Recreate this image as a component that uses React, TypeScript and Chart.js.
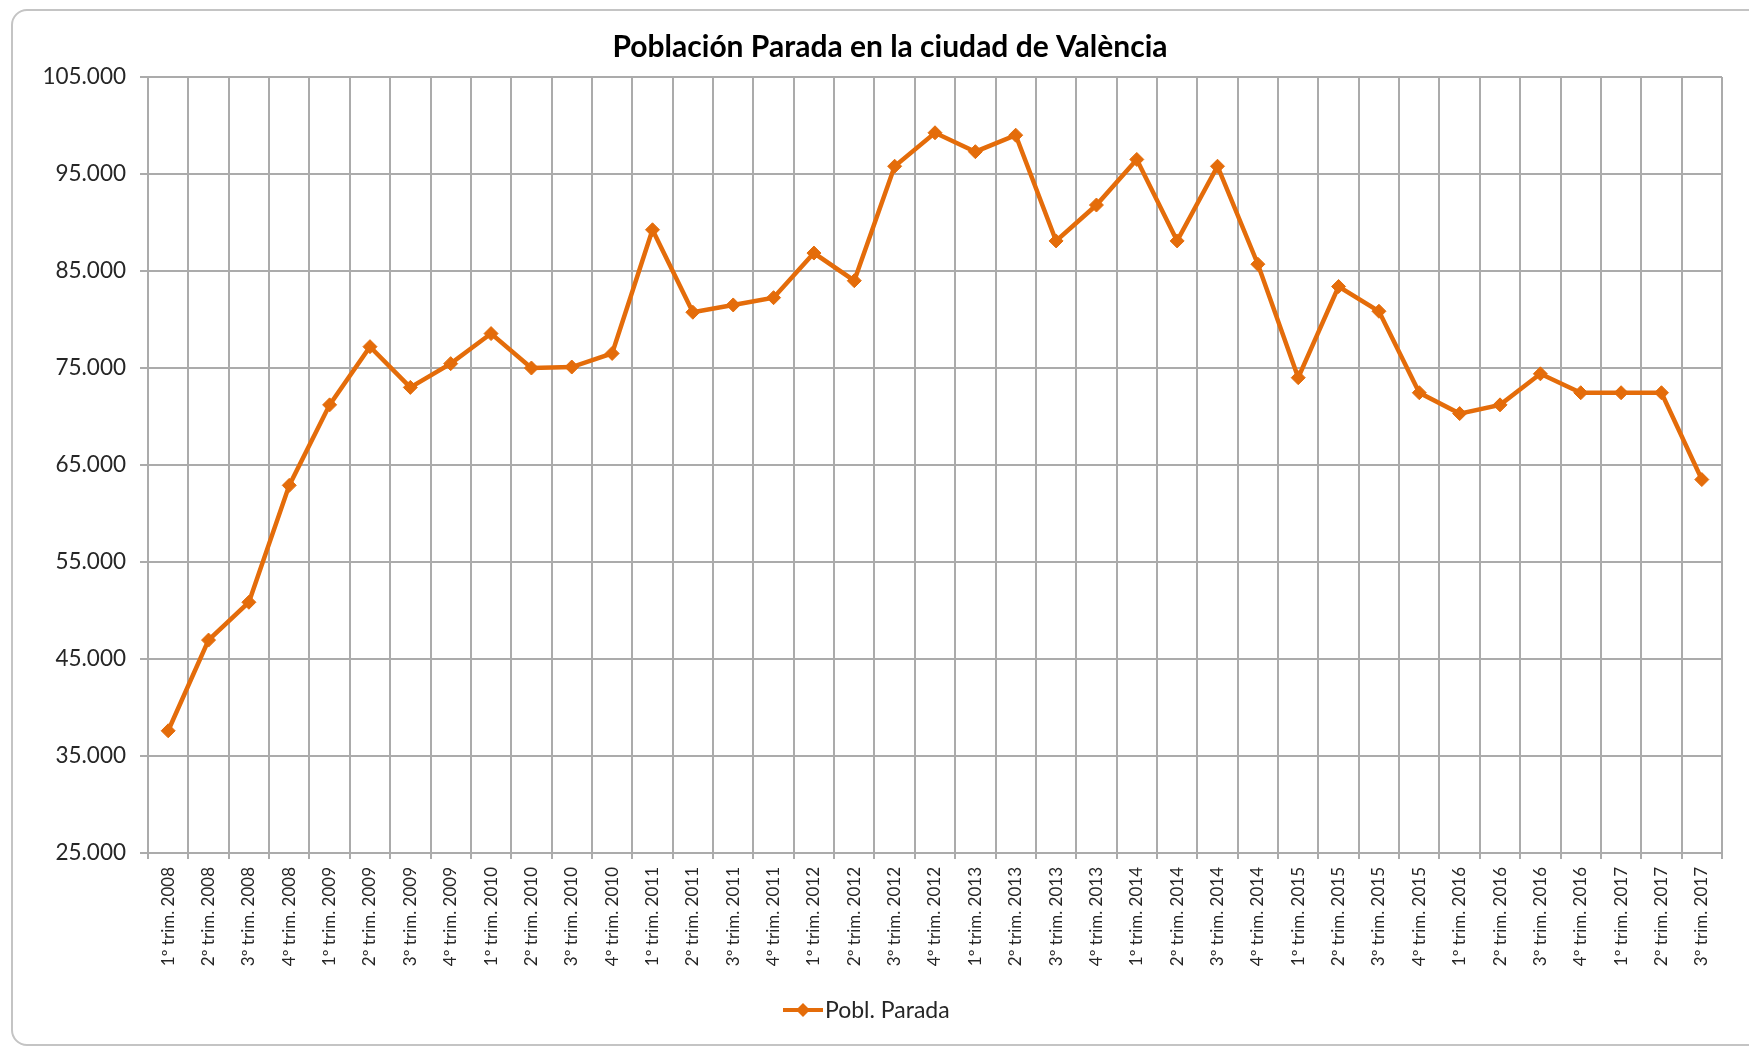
import React, { useEffect, useRef } from "react";
import { Chart, registerables } from "chart.js";

Chart.register(...registerables);

const chartTitle = "Población Parada en la ciudad de València";
const seriesLabel = "Pobl. Parada";

const categories = [
  "1º trim. 2008", "2º trim. 2008", "3º trim. 2008", "4º trim. 2008",
  "1º trim. 2009", "2º trim. 2009", "3º trim. 2009", "4º trim. 2009",
  "1º trim. 2010", "2º trim. 2010", "3º trim. 2010", "4º trim. 2010",
  "1º trim. 2011", "2º trim. 2011", "3º trim. 2011", "4º trim. 2011",
  "1º trim. 2012", "2º trim. 2012", "3º trim. 2012", "4º trim. 2012",
  "1º trim. 2013", "2º trim. 2013", "3º trim. 2013", "4º trim. 2013",
  "1º trim. 2014", "2º trim. 2014", "3º trim. 2014", "4º trim. 2014",
  "1º trim. 2015", "2º trim. 2015", "3º trim. 2015", "4º trim. 2015",
  "1º trim. 2016", "2º trim. 2016", "3º trim. 2016", "4º trim. 2016",
  "1º trim. 2017", "2º trim. 2017", "3º trim. 2017",
];

const poblParada = [
  37600, 46950, 50850, 62900,
  71200, 77200, 73000, 75450,
  78550, 75000, 75100, 76500,
  89250, 80750, 81500, 82250,
  86850, 84000, 95800, 99250,
  97300, 99000, 88100, 91800,
  96500, 88100, 95800, 85700,
  74000, 83400, 80850, 72450,
  70300, 71200, 74400, 72450,
  72450, 72450, 63500,
];

const yMin = 25000;
const yMax = 105000;
const yStep = 10000;

const ORANGE = "#E46C0A";
const GRID = "#ababab";
const TEXT = "#262626";
const FONT = "Lato";

function formatThousands(v: number): string {
  return String(Math.round(v)).replace(/\B(?=(\d{3})+(?!\d))/g, ".");
}

const overlayPlugin = {
  id: "overlayTitleLegend",
  afterDraw(chart: any) {
    const ctx = chart.ctx as CanvasRenderingContext2D;
    ctx.save();
    // Title
    ctx.font = `bold 30px ${FONT}`;
    ctx.fillStyle = "#000000";
    ctx.textAlign = "center";
    ctx.textBaseline = "middle";
    ctx.fillText(chartTitle, 890, 47);

    // Legend: line + diamond marker + text
    const ly = 1010;
    const lx0 = 783;
    const lx1 = 823;
    ctx.strokeStyle = ORANGE;
    ctx.lineWidth = 4;
    ctx.beginPath();
    ctx.moveTo(lx0, ly);
    ctx.lineTo(lx1, ly);
    ctx.stroke();
    const mx = (lx0 + lx1) / 2;
    ctx.fillStyle = ORANGE;
    ctx.beginPath();
    ctx.moveTo(mx, ly - 7);
    ctx.lineTo(mx + 7, ly);
    ctx.lineTo(mx, ly + 7);
    ctx.lineTo(mx - 7, ly);
    ctx.closePath();
    ctx.fill();
    ctx.font = `23px ${FONT}`;
    ctx.fillStyle = TEXT;
    ctx.textAlign = "left";
    ctx.fillText(seriesLabel, lx1 + 2, ly + 1);
    ctx.restore();
  },
};

export default function App() {
  const canvasRef = useRef<HTMLCanvasElement | null>(null);

  useEffect(() => {
    if (!canvasRef.current) return;
    const chart = new Chart(canvasRef.current, {
      type: "line",
      data: {
        labels: categories,
        datasets: [
          {
            label: seriesLabel,
            data: poblParada,
            borderColor: ORANGE,
            backgroundColor: ORANGE,
            borderWidth: 4.5,
            pointStyle: "rectRot",
            pointRadius: 7,
            pointBorderWidth: 1,
            pointBackgroundColor: ORANGE,
            pointBorderColor: ORANGE,
            tension: 0,
            fill: false,
          },
        ],
      },
      options: {
        responsive: false,
        animation: false,
        devicePixelRatio: 1,
        layout: { padding: { left: 0, right: 27, top: 77, bottom: 0 } },
        plugins: {
          legend: { display: false },
          title: { display: false },
          tooltip: { enabled: false },
        },
        scales: {
          x: {
            type: "category",
            offset: true,
            grid: {
              offset: true,
              color: GRID,
              lineWidth: 2,
              tickLength: 6,
              drawTicks: true,
            },
            border: { color: GRID, width: 2 },
            ticks: {
              autoSkip: false,
              maxRotation: 90,
              minRotation: 90,
              padding: 8,
              color: TEXT,
              font: { family: FONT, size: 17 },
            },
            afterFit(scale: any) {
              scale.height = 1048 - 853;
            },
          },
          y: {
            min: yMin,
            max: yMax,
            grid: {
              color: GRID,
              lineWidth: 2,
              tickLength: 8,
              drawTicks: true,
            },
            border: { color: GRID, width: 2 },
            ticks: {
              stepSize: yStep,
              padding: 14,
              color: TEXT,
              font: { family: FONT, size: 22.5 },
              callback: (v: any) => formatThousands(Number(v)),
            },
            afterFit(scale: any) {
              scale.width = 148;
            },
          },
        },
      },
      plugins: [overlayPlugin],
    });
    return () => chart.destroy();
  }, []);

  return (
    <div
      style={{
        position: "fixed",
        left: 0,
        top: 0,
        width: 1749,
        height: 1048,
        overflow: "hidden",
        background: "#ffffff",
      }}
    >
      <div
        style={{
          position: "absolute",
          left: 11,
          top: 9,
          width: 1770,
          height: 1037,
          border: "2px solid #c4c4c4",
          borderRadius: 16,
          boxSizing: "border-box",
        }}
      />
      <canvas
        ref={canvasRef}
        width={1749}
        height={1048}
        style={{ position: "absolute", left: 0, top: 0, width: 1749, height: 1048 }}
      />
    </div>
  );
}
